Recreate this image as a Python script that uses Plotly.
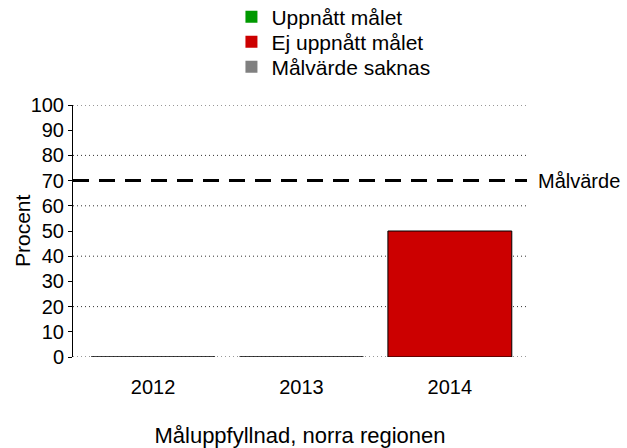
import plotly.graph_objects as go

years = ["2012", "2013", "2014"]
values = [0, 0, 50]
target = 70
legend_names = ["Uppnått målet", "Ej uppnått målet", "Målvärde saknas"]
legend_colors = ["#009900", "#CC0000", "#808080"]
y_ticks = list(range(0, 101, 10))
grid_vals = list(range(0, 101, 20))

FONT = "Liberation Sans, Arial, sans-serif"
H = 448
legend_centers_px = [17, 42, 67]

fig = go.Figure()

fig.add_trace(go.Bar(
    x=years, y=values,
    marker=dict(color="#CC0000", line=dict(color="black", width=1)),
    width=0.835, showlegend=False, hoverinfo="x+y",
))

legend_ids = ["legend", "legend2", "legend3"]
for name, col, lid in zip(legend_names, legend_colors, legend_ids):
    fig.add_trace(go.Bar(
        x=[years[0]], y=[None], name=name,
        marker=dict(color=col, line=dict(width=0)),
        showlegend=True, legend=lid,
    ))

# dotted horizontal gridlines every 20
for g in grid_vals:
    fig.add_shape(type="line", xref="paper", yref="y", x0=0, x1=1, y0=g, y1=g,
                  layer="below", line=dict(color="#333333", width=1, dash="1px,3px"))

fig.add_shape(type="line", xref="paper", yref="y", x0=0, x1=1, y0=target, y1=target,
              line=dict(color="black", width=3, dash="16px,10px"))
fig.add_annotation(xref="paper", yref="y", x=1, y=target, text="Målvärde",
                   showarrow=False, xanchor="left", xshift=9,
                   font=dict(family=FONT, size=20, color="black"))
# y-axis title
fig.add_annotation(xref="paper", yref="paper", x=0, y=0.5, text="Procent",
                   showarrow=False, xanchor="center", yanchor="middle", xshift=-51,
                   textangle=-90, font=dict(family=FONT, size=21, color="black"))

legend_layout = {}
for lid, cy in zip(legend_ids, legend_centers_px):
    legend_layout[lid] = dict(x=0.349, xanchor="left", y=1 - cy / H, yanchor="middle",
                              yref="container", orientation="v",
                              font=dict(family=FONT, size=21, color="black"),
                              bgcolor="rgba(0,0,0,0)", borderwidth=0)

fig.update_layout(
    width=627, height=H,
    margin=dict(l=73, r=100, t=105, b=91, autoexpand=False),
    paper_bgcolor="white", plot_bgcolor="white",
    font=dict(family=FONT, size=20, color="black"),
    barmode="overlay",
    **legend_layout,
    xaxis=dict(range=[-0.54, 2.52], showgrid=False, zeroline=False, showline=False,
               ticks="", tickfont=dict(size=20), automargin=False,
               ticklabelstandoff=16,
               title=dict(text="Måluppfyllnad, norra regionen", standoff=32,
                          font=dict(size=22))),
    yaxis=dict(range=[0, 100], tickvals=y_ticks, ticktext=[str(v) for v in y_ticks],
               showgrid=False, zeroline=False, showline=True, linecolor="black",
               linewidth=1, ticks="outside", ticklen=4, tickcolor="black",
               tickfont=dict(size=20), automargin=False),
)

fig.write_html("out.html", config={"displayModeBar": False},
               post_script="document.body.style.margin='0';")
